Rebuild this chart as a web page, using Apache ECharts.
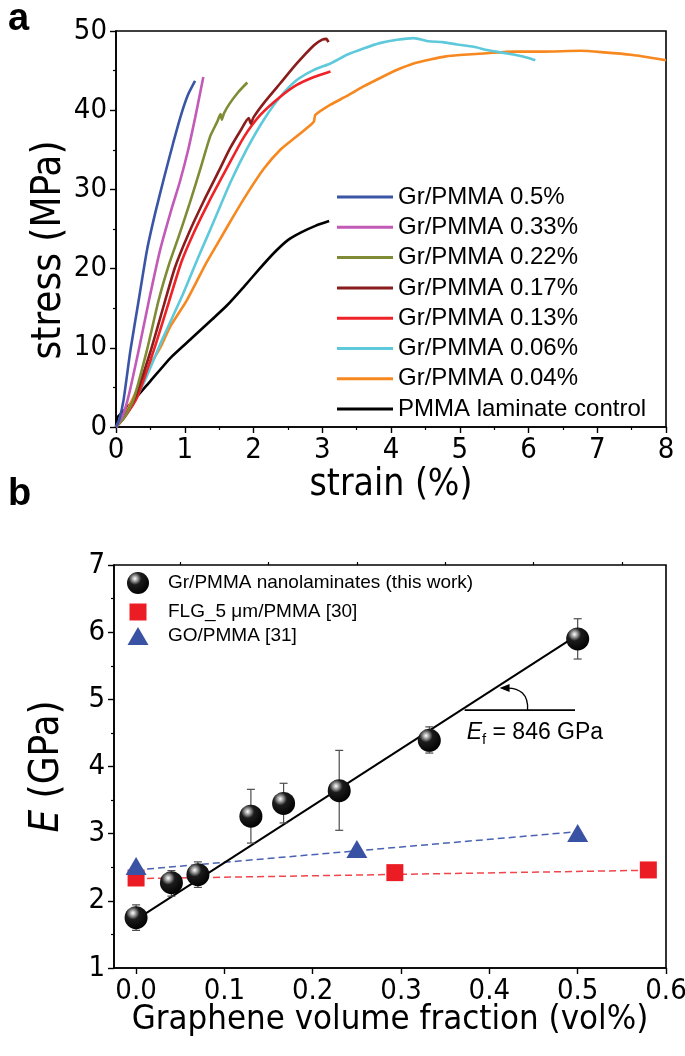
<!DOCTYPE html>
<html>
<head>
<meta charset="utf-8">
<script src="https://cdn.jsdelivr.net/npm/echarts@6/dist/echarts.min.js"></script>
<style>
  html, body { margin: 0; padding: 0; background: #fff; }
  #chart { width: 685px; height: 1056px; }
</style>
</head>
<body>
<div id="chart"></div>
<script>
// ---- panel a: stress / strain curves, points are [strain %, stress MPa]
const gr050 = [[0,0],[0.05,1],[0.11,3.4],[0.21,9.7],[0.33,16],[0.45,22.3],[0.57,27],[0.7,31.5],[0.83,35.8],[0.95,39.5],[1.05,42],[1.15,43.7]];
const gr033 = [[0,0],[0.1,1.5],[0.18,3.8],[0.33,9.7],[0.48,16],[0.64,22.3],[0.8,27.3],[0.93,31],[1.05,35],[1.15,39],[1.22,42],[1.27,44.2]];
const gr022 = [[0,0],[0.12,1.2],[0.26,3.6],[0.45,9.7],[0.62,16],[0.77,20.5],[0.91,24],[1.07,28.2],[1.22,32.4],[1.37,36.7],[1.47,38.5],[1.52,39.5],[1.54,38.8],[1.57,39.6],[1.65,40.8],[1.78,42.3],[1.91,43.5]];
const gr017 = [[0,0],[0.12,1.3],[0.28,3.8],[0.5,9.5],[0.7,15.5],[0.86,20.2],[1.06,24.5],[1.28,28.6],[1.5,32.4],[1.66,35.2],[1.81,37.4],[1.93,39],[1.96,38.3],[2,39.1],[2.15,40.9],[2.39,43.4],[2.63,45.9],[2.88,48.2],[3,48.9],[3.06,49],[3.09,48.6]];
const gr013 = [[0,0],[0.13,1.3],[0.31,3.8],[0.55,9.7],[0.77,15.8],[0.95,20.8],[1.13,24.5],[1.35,28.4],[1.62,32.8],[1.86,36.6],[2.1,39.4],[2.39,41.7],[2.63,43.2],[2.88,44.2],[3.12,44.9]];
const gr006 = [[0,0],[0.16,1.7],[0.4,5.5],[0.67,11],[0.96,16.5],[1.2,21.5],[1.4,25.5],[1.66,30.8],[1.91,35.2],[2.15,38.8],[2.39,41.7],[2.63,43.8],[2.88,45.1],[3.12,45.9],[3.36,47],[3.6,47.8],[3.85,48.5],[4.09,48.9],[4.33,49.1],[4.55,48.7],[4.75,48.6],[4.96,48.3],[5.2,48],[5.4,47.6],[5.59,47.3],[5.8,47],[6,46.6],[6.1,46.3]];
const gr004 = [[0,0],[0.16,2.1],[0.4,6.4],[0.65,10.1],[0.79,12.7],[1.03,16],[1.3,20.5],[1.5,23.5],[1.7,26.5],[1.91,29.5],[2.15,32.6],[2.39,35],[2.63,36.7],[2.85,38.3],[2.88,38.6],[2.9,39.4],[3.12,40.7],[3.36,41.8],[3.6,43],[3.85,44.1],[4.09,45.1],[4.33,45.9],[4.57,46.4],[4.8,46.8],[5.06,47],[5.4,47.2],[5.79,47.4],[6.2,47.4],[6.76,47.5],[7.1,47.3],[7.49,47],[7.8,46.6],[8,46.3]];
const pmma = [[0,0],[0.02,1.2],[0.1,1.9],[0.25,3.3],[0.5,5.8],[0.8,8.8],[1.1,11.2],[1.4,13.6],[1.62,15.4],[1.85,17.6],[2.08,19.9],[2.3,22],[2.5,23.6],[2.7,24.6],[2.9,25.4],[3.1,26]];

const curveNames = ['Gr/PMMA 0.5%','Gr/PMMA 0.33%','Gr/PMMA 0.22%','Gr/PMMA 0.17%','Gr/PMMA 0.13%','Gr/PMMA 0.06%','Gr/PMMA 0.04%','PMMA laminate control'];
const curveColors = ['#3a55a5','#c25ab8','#7f8c35','#8a1c1c','#ee2227','#5ec9da','#f7881f','#000000'];
const curves = [gr050, gr033, gr022, gr017, gr013, gr006, gr004, pmma];

// ---- panel b: modulus vs graphene volume fraction
const grFrac = [0, 0.04, 0.07, 0.13, 0.167, 0.23, 0.332, 0.5];
const grE = [1.75, 2.27, 2.39, 3.26, 3.45, 3.64, 4.39, 5.9];
const grErrLow = [1.56, 2.07, 2.2, 2.86, 3.16, 3.05, 4.2, 5.6];
const grErrHigh = [1.94, 2.45, 2.58, 3.66, 3.75, 4.24, 4.59, 6.2];
const flgFrac = [0, 0.293, 0.58];
const flgE = [2.34, 2.42, 2.46];
const goFrac = [0, 0.25, 0.5];
const goE = [2.52, 2.77, 3.01];
const fitGr = [[0, 1.72], [0.5, 5.96]];
const fitFlg = [[0, 2.33], [0.58, 2.455]];
const fitGo = [[0, 2.46], [0.5, 3.03]];
const xTicksB = [0, 0.1, 0.2, 0.3, 0.4, 0.5, 0.6];
const xMinorB = [0.05, 0.15, 0.25, 0.35, 0.45, 0.55];
// annotation: slope line [x0, x1, y]
const slopeLine = [0.372, 0.497, 4.84];

const FONT = "'Liberation Sans', Arial, sans-serif";
const NARROW = "'Liberation Sans Narrow', 'DejaVu Sans Condensed', 'Liberation Sans', sans-serif";

const chart = echarts.init(document.getElementById('chart'));

function valueAxis(grid, extra) {
    return Object.assign({
        gridIndex: grid,
        type: 'value',
        nameMoveOverlap: false,
        axisLine: { show: true, onZero: false, lineStyle: { color: '#000', width: 1.6 } },
        axisTick: { show: true, length: 6, lineStyle: { color: '#000', width: 1.4 } },
        minorTick: { show: true, splitNumber: 2, length: 3, lineStyle: { color: '#000', width: 1.2 } },
        splitLine: { show: false },
        axisLabel: { color: '#000', fontSize: 29, fontFamily: NARROW, margin: 9 },
        nameLocation: 'middle',
        nameTextStyle: { color: '#000', fontSize: 40, fontFamily: NARROW }
    }, extra);
}

const sphere = {
    type: 'radial', x: 0.36, y: 0.3, r: 0.75,
    colorStops: [
        { offset: 0, color: '#ffffff' },
        { offset: 0.14, color: '#b0b0b0' },
        { offset: 0.38, color: '#1c1c1c' },
        { offset: 1, color: '#000000' }
    ]
};

const series = [];
curves.forEach((c, i) => {
    series.push({
        name: curveNames[i],
        type: 'line',
        xAxisIndex: 0, yAxisIndex: 0,
        data: c,
        showSymbol: false,
        smooth: 0.2,
        lineStyle: { color: curveColors[i], width: 2.6 },
        itemStyle: { color: curveColors[i] },
        z: 10 - i
    });
});

series.push(
    {
        type: 'line', xAxisIndex: 1, yAxisIndex: 1, data: fitFlg, showSymbol: false,
        lineStyle: { color: '#f0464b', width: 1.5, type: [7, 4] }, z: 2
    },
    {
        type: 'line', xAxisIndex: 1, yAxisIndex: 1, data: fitGo, showSymbol: false,
        lineStyle: { color: '#4a62b3', width: 1.5, type: [7, 4] }, z: 2
    },
    {
        type: 'line', xAxisIndex: 1, yAxisIndex: 1, data: fitGr, showSymbol: false,
        lineStyle: { color: '#000', width: 2 }, z: 3
    },
    {
        type: 'custom', xAxisIndex: 1, yAxisIndex: 1, z: 4,
        data: grFrac.map((x, i) => [x, grErrLow[i], grErrHigh[i]]),
        renderItem: function (params, api) {
            const lo = api.coord([api.value(0), api.value(1)]);
            const hi = api.coord([api.value(0), api.value(2)]);
            const s = { stroke: '#4d4d4d', lineWidth: 1.2 };
            return {
                type: 'group',
                children: [
                    { type: 'line', shape: { x1: lo[0], y1: lo[1], x2: hi[0], y2: hi[1] }, style: s },
                    { type: 'line', shape: { x1: lo[0] - 4, y1: lo[1], x2: lo[0] + 4, y2: lo[1] }, style: s },
                    { type: 'line', shape: { x1: hi[0] - 4, y1: hi[1], x2: hi[0] + 4, y2: hi[1] }, style: s }
                ]
            };
        }
    },
    {
        name: 'FLG_5 μm/PMMA [30]',
        type: 'scatter', xAxisIndex: 1, yAxisIndex: 1,
        data: flgFrac.map((x, i) => [x, flgE[i]]),
        symbol: 'rect', symbolSize: 17,
        itemStyle: { color: '#ec1c24', opacity: 1 }, z: 5
    },
    {
        name: 'GO/PMMA [31]',
        type: 'scatter', xAxisIndex: 1, yAxisIndex: 1,
        data: goFrac.map((x, i) => [x, goE[i]]),
        symbol: 'triangle', symbolSize: [21, 18],
        itemStyle: { color: '#3a52a4', opacity: 1 }, z: 6
    },
    {
        name: 'Gr/PMMA nanolaminates (this work)',
        type: 'scatter', xAxisIndex: 1, yAxisIndex: 1,
        data: grFrac.map((x, i) => [x, grE[i]]),
        symbol: 'circle', symbolSize: 23,
        itemStyle: { color: sphere, opacity: 1 }, z: 7
    },
    {
        type: 'custom', xAxisIndex: 1, yAxisIndex: 1, z: 8,
        data: [slopeLine],
        renderItem: function (params, api) {
            const a = api.coord([api.value(0), api.value(2)]);
            const b = api.coord([api.value(1), api.value(2)]);
            const sx = a[0] + 0.57 * (b[0] - a[0]);
            const y = a[1];
            const tip = [sx - 28, y - 22];
            return {
                type: 'group',
                children: [
                    { type: 'line', shape: { x1: a[0], y1: y, x2: b[0], y2: y }, style: { stroke: '#000', lineWidth: 1.6 } },
                    { type: 'bezierCurve', shape: { x1: sx, y1: y, cpx1: sx + 1, cpy1: y - 16, cpx2: sx - 8, cpy2: y - 22, x2: tip[0] + 8, y2: tip[1] }, style: { stroke: '#000', lineWidth: 1.3, fill: null } },
                    { type: 'polygon', shape: { points: [[tip[0], tip[1]], [tip[0] + 10, tip[1] - 4], [tip[0] + 10, tip[1] + 4]] }, style: { fill: '#000' } },
                    {
                        type: 'text',
                        x: a[0] + 2, y: y + 9,
                        style: {
                            text: '{i|E}{s|f}{n| = 846 GPa}',
                            rich: {
                                i: { fontSize: 23, fontStyle: 'italic', fontFamily: FONT, fill: '#000', lineHeight: 28 },
                                s: { fontSize: 15, fontFamily: FONT, fill: '#000', lineHeight: 28, verticalAlign: 'bottom', padding: [12, 0, 0, 0] },
                                n: { fontSize: 23, fontFamily: FONT, fill: '#000', lineHeight: 28 }
                            },
                            align: 'left', verticalAlign: 'top'
                        }
                    }
                ]
            };
        }
    }
);

// legend rows of panel b: icon box is exactly the marker size, text pushed to x=168
const smallLegend = (name, icon, w, h, top) => ({
    data: [{ name: name, icon: icon }], left: 138 - w / 2, top: top, padding: 0,
    itemWidth: w, itemHeight: h,
    textStyle: { fontSize: 19, fontFamily: FONT, color: '#000', lineHeight: 22, padding: [0, 0, 0, 168 - (138 + w / 2) - 5] }
});

chart.setOption({
    backgroundColor: '#fff',
    animation: false,
    title: [
        { text: 'a', left: 3, top: -4, textStyle: { fontSize: 38, fontWeight: 'bold', fontFamily: FONT, color: '#000' } },
        { text: 'b', left: 3, top: 471, textStyle: { fontSize: 38, fontWeight: 'bold', fontFamily: FONT, color: '#000' } }
    ],
    grid: [
        { left: 116, top: 31, width: 550, height: 396, show: true, borderColor: '#000', borderWidth: 1.6, outerBoundsMode: 'none' },
        { left: 114, top: 565, width: 552, height: 403, show: true, borderColor: '#000', borderWidth: 1.6, outerBoundsMode: 'none' }
    ],
    legend: [
        {
            data: curveNames, orient: 'vertical', left: 337, top: 182, padding: 0,
            itemWidth: 56, itemHeight: 3, itemGap: 0.3, icon: 'rect',
            textStyle: { fontSize: 24, fontFamily: FONT, color: '#000', lineHeight: 30 }
        },
        smallLegend('Gr/PMMA nanolaminates (this work)', 'circle', 22, 22, 572),
        smallLegend('FLG_5 μm/PMMA [30]', 'rect', 17, 17, 601),
        smallLegend('GO/PMMA [31]', 'triangle', 21, 18, 625)
    ],
    xAxis: [
        valueAxis(0, { min: 0, max: 8, interval: 1, name: 'strain (%)', nameGap: 40,
            nameTextStyle: { color: '#000', fontSize: 37, fontFamily: NARROW } }),
        valueAxis(1, {
            min: -0.025, max: 0.6,
            name: 'Graphene volume fraction (vol%)', nameGap: 35,
            nameTextStyle: { color: '#000', fontSize: 34.5, fontFamily: NARROW },
            axisTick: { show: true, length: 6, customValues: xTicksB, lineStyle: { color: '#000', width: 1.4 } },
            minorTick: { show: false },
            axisLabel: { color: '#000', fontSize: 29, fontFamily: NARROW, margin: 9, customValues: xTicksB, formatter: v => v.toFixed(1) }
        }),
        valueAxis(1, {
            min: -0.025, max: 0.6,
            axisLine: { show: false },
            axisTick: { show: true, length: 3, customValues: xMinorB, lineStyle: { color: '#000', width: 1.2 } },
            minorTick: { show: false },
            axisLabel: { show: false }
        })
    ],
    yAxis: [
        valueAxis(0, { min: 0, max: 50, interval: 10, name: 'stress (MPa)', nameGap: 46,
            nameTextStyle: { color: '#000', fontSize: 40, fontFamily: NARROW, padding: [0, 42, 0, 0] } }),
        valueAxis(1, {
            min: 1, max: 7, interval: 1, name: '{i|E} (GPa)', nameGap: 46,
            nameTextStyle: {
                color: '#000', fontSize: 40, fontFamily: NARROW,
                rich: { i: { fontSize: 40, fontStyle: 'italic', fontFamily: NARROW, color: '#000' } }
            }
        })
    ],
    series: series
});
</script>
</body>
</html>
